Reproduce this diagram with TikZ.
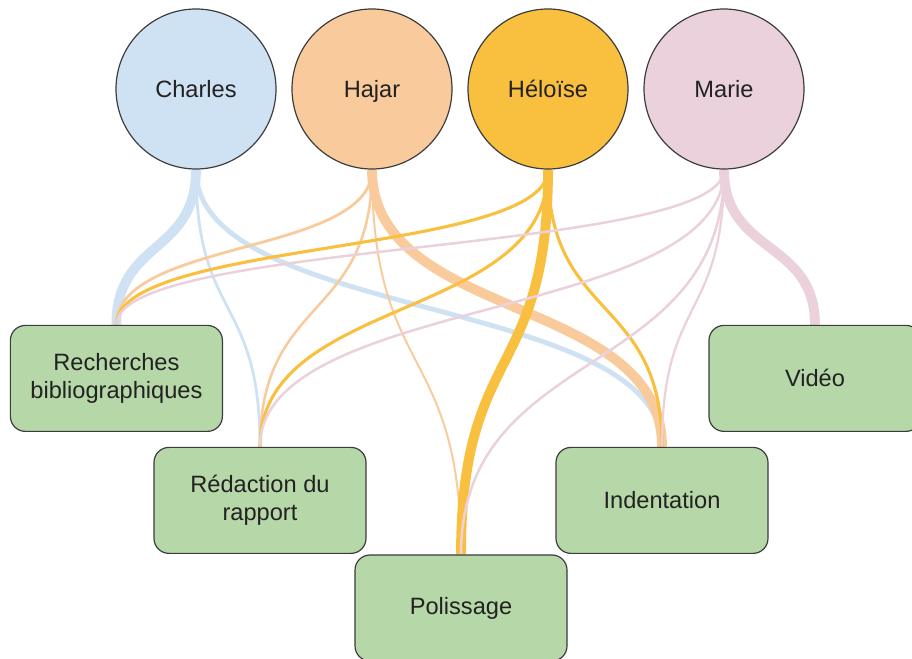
\documentclass[tikz,border=0pt]{standalone}
\usepackage{fontspec}
\setmainfont{Liberation Sans}
\usetikzlibrary{backgrounds,calc}

\definecolor{ccharles}{HTML}{CFE2F3}
\definecolor{chajar}{HTML}{F9CB9C}
\definecolor{cheloise}{HTML}{F9BF3E}
\definecolor{cmarie}{HTML}{EAD1DC}
\definecolor{ctache}{HTML}{B6D7A8}
\definecolor{cbord}{HTML}{3C3C3C}
\definecolor{ctexte}{HTML}{222222}

\begin{document}
\begin{tikzpicture}[
  every node/.style={font=\fontsize{16.8}{19.9}\selectfont, text=ctexte},
  personne/.style={circle, draw=cbord, line width=0.85pt, minimum size=4cm, inner sep=0pt,
                   text height=12pt, text depth=0pt},
  tache/.style={rectangle, rounded corners=0.375cm, draw=cbord, line width=0.85pt, fill=ctache,
                minimum width=5.3cm, minimum height=2.65cm, align=center},
  lien/.style={line cap=butt}
]

  % cadre
  \useasboundingbox (0, 0) rectangle (22.8, 16.45);

  % personnes
  \node[personne, fill=ccharles] (charles) at (4.9, 14.225) {Charles};
  \node[personne, fill=chajar]   (hajar)   at (9.3, 14.225) {Hajar};
  \node[personne, fill=cheloise] (heloise) at (13.7, 14.225) {Héloïse};
  \node[personne, fill=cmarie]   (marie)   at (18.1, 14.225) {Marie};

  % tâches
  \node[tache] (rech) at (2.91, 6.99)   {Recherches\\bibliographiques};
  \node[tache] (red)  at (6.5, 3.94)    {Rédaction du\\rapport};
  \node[tache] (pol)  at (11.525, 1.25) {Polissage};
  \node[tache] (ind)  at (16.55, 3.94)  {Indentation};
  \node[tache] (vid)  at (20.375, 6.99) {Vidéo};

  % liens (épaisseur = part du travail)
  \begin{scope}[on background layer]
    \foreach \qui/\quoi/\ep in {charles/rech/7pt, charles/red/2pt, charles/ind/3.5pt,
                          hajar/rech/2pt, hajar/red/1.8pt, hajar/pol/1.4pt, hajar/ind/7pt,
                          heloise/rech/2.2pt, heloise/red/2.2pt, heloise/pol/7pt, heloise/ind/2.2pt,
                          marie/rech/1.8pt, marie/red/1.8pt, marie/pol/1.8pt, marie/ind/1.6pt, marie/vid/7pt}
      \draw[lien, draw=c\qui, line width=\ep]
        let \p1=(\qui.south), \p2=(\quoi.north), \n1={0.55*(\y1-\y2)} in
        (\p1) .. controls +(0,-\n1) and +(0,\n1) .. (\p2);
  \end{scope}

\end{tikzpicture}
\end{document}
